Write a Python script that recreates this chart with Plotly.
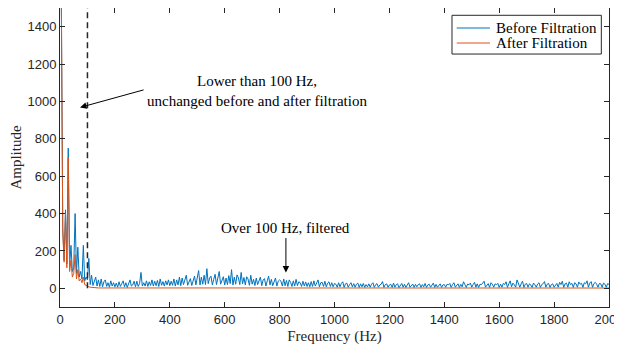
import plotly.graph_objects as go

# ---- data ----
freq_low = [0, 5, 10, 15, 20, 25, 30, 35, 40, 45, 50, 55, 60, 65, 70, 75, 80, 85, 90, 95, 100]
blue_low = [1800, 1500, 320, 150, 420, 130, 750, 120, 230, 90, 110, 400, 80, 220, 60, 90, 50, 230, 40, 60, 45]
orange_low = [1800, 1550, 300, 140, 400, 110, 700, 90, 150, 60, 80, 180, 50, 100, 40, 50, 30, 60, 20, 15, 10]

blue_high = [
    160, 20, 70, 15, 45, 60, 12, 45, 10, 50, 8, 35, 45, 10, 30, 6, 40, 12, 30, 8,
    28, 6, 35, 10, 25, 40, 8, 30, 5, 32, 45, 12, 18, 38, 8, 38, 10, 26, 85, 12,
    30, 12, 40, 10, 35, 15, 45, 12, 38, 14, 42, 10, 50, 16, 36, 12, 40, 18, 45, 14,
    38, 16, 50, 12, 45, 18, 60, 14, 55, 20, 48, 70, 16, 35, 52, 15, 45, 65, 18, 50,
    95, 18, 60, 22, 70, 20, 105, 25, 55, 65, 18, 48, 75, 20, 55, 90, 22, 45, 62, 18,
    55, 20, 68, 25, 100, 18, 60, 22, 72, 55, 20, 85, 24, 58, 18, 62, 50, 16, 70, 22,
    48, 15, 55, 20, 42, 60, 14, 45, 52, 12, 40, 65, 18, 48, 14, 42, 55, 12, 38, 45,
    38, 12, 50, 14, 42, 10, 45, 32, 10, 40, 12, 48, 14, 35, 30, 10, 38, 12, 34, 10,
    30, 8, 36, 10, 40, 12, 28, 45, 8, 30, 32, 10, 38, 8, 28, 35, 10, 30, 8, 26,
    22, 6, 30, 8, 26, 35, 5, 24, 28, 6, 20, 30, 8, 25, 6, 22, 28, 5, 24, 8,
    26, 5, 20, 8, 24, 6, 22, 30, 5, 20, 25, 6, 18, 22, 36, 5, 20, 24, 6, 18,
    22, 5, 28, 6, 20, 24, 4, 19, 26, 6, 22, 5, 20, 30, 6, 18, 23, 5, 21, 8,
    20, 24, 5, 20, 8, 26, 5, 18, 22, 6, 18, 28, 5, 21, 6, 19, 24, 5, 18, 20,
    6, 22, 18, 26, 5, 20, 30, 6, 19, 24, 5, 21, 8, 35, 20, 5, 23, 19, 28, 6,
    20, 32, 6, 24, 5, 22, 19, 26, 38, 6, 17, 25, 5, 30, 22, 6, 24, 19, 27, 5,
    22, 6, 26, 20, 35, 5, 24, 40, 8, 28, 19, 6, 45, 30, 6, 24, 38, 5, 22, 26,
    6, 24, 18, 5, 28, 19, 6, 23, 30, 5, 20, 25, 36, 6, 22, 26, 5, 20, 24, 6,
    18, 26, 6, 32, 20, 38, 5, 24, 28, 6, 35, 20, 26, 5, 30, 24, 6, 34, 22, 27,
    5, 30, 24, 40, 6, 28, 36, 5, 25, 32, 22, 6, 26, 24, 5, 28, 22, 6, 25, 21,
]
freq_high = [105 + 5 * i for i in range(len(blue_high))]

orange_tail_freq = [105, 110, 115, 120, 125, 130, 140, 150, 175, 200, 250, 300, 400, 500, 600, 700,
                    800, 900, 1000, 1200, 1400, 1600, 1800, 2000]
orange_tail = [8, 6, 5, 4, 3, 3, 2, 2, 2, 2, 1.5, 1.5, 1.5, 1.5, 1.5, 1.5,
               1.5, 1.5, 1.5, 1.5, 1.5, 1.5, 1.5, 1.5]

series_names = ["Before Filtration", "After Filtration"]
series_colors = ["#0072BD", "#D95319"]

blue_f = freq_low + freq_high
blue_y = blue_low + blue_high
orange_f = freq_low + orange_tail_freq
orange_y = orange_low + orange_tail

x_ticks = [0, 200, 400, 600, 800, 1000, 1200, 1400, 1600, 1800, 2000]
y_ticks = [0, 200, 400, 600, 800, 1000, 1200, 1400]
cutoff = 100

AX = "#262626"
SERIF = "Liberation Serif, Times New Roman, serif"
SANS = "Liberation Sans, Arial, sans-serif"

fig = go.Figure()
fig.add_trace(go.Scatter(x=blue_f, y=blue_y, mode="lines", name=series_names[0],
                         line=dict(color=series_colors[0], width=1), showlegend=False))
fig.add_trace(go.Scatter(x=orange_f, y=orange_y, mode="lines", name=series_names[1],
                         line=dict(color=series_colors[1], width=1), showlegend=False))

fig.add_shape(type="line", x0=cutoff, x1=cutoff, y0=0, y1=1500, xref="x", yref="y",
              line=dict(color=AX, width=1.5, dash="6px,4px"), layer="above")

fig.add_annotation(x=718, y=1058, xref="x", yref="y",
                   text="Lower than 100 Hz,<br>unchanged before and after filtration",
                   showarrow=False, font=dict(family=SERIF, size=15, color="#000000"))
fig.add_annotation(x=73, y=968, ax=310, ay=1064, xref="x", yref="y", axref="x", ayref="y",
                   text="", showarrow=True, arrowhead=2, arrowsize=1.3, arrowwidth=1,
                   arrowcolor="#000000")
fig.add_annotation(x=820, y=324, xref="x", yref="y", text="Over 100 Hz, filtered",
                   showarrow=False, font=dict(family=SERIF, size=15, color="#000000"))
fig.add_annotation(x=823, y=85, ax=823, ay=277, xref="x", yref="y", axref="x", ayref="y",
                   text="", showarrow=True, arrowhead=2, arrowsize=1.3, arrowwidth=1,
                   arrowcolor="#000000")

# legend box (MATLAB-style compact legend)
fig.add_shape(type="rect", xref="paper", yref="paper", x0=0.714, x1=0.986, y0=0.846, y1=0.9756,
              line=dict(color=AX, width=1), fillcolor="white", layer="above")
for i, (nm, col) in enumerate(zip(series_names, series_colors)):
    yy = 0.9331 - i * 0.0502
    fig.add_shape(type="line", xref="paper", yref="paper", x0=0.7226, x1=0.7832, y0=yy, y1=yy,
                  line=dict(color=col, width=1), layer="above")
    fig.add_annotation(x=0.7905, y=yy, xref="paper", yref="paper", text=nm, showarrow=False,
                       xanchor="left", yanchor="middle",
                       font=dict(family=SERIF, size=15, color="#000000"))

fig.update_layout(
    width=614, height=343,
    margin=dict(l=52, r=13, t=0, b=44),
    paper_bgcolor="white", plot_bgcolor="white",
    showlegend=False,
)
fig.update_xaxes(range=[0, 2000], tickvals=x_ticks, ticks="inside", ticklen=5,
                 tickcolor=AX, linecolor=AX, linewidth=1, mirror="ticks", showline=True,
                 showgrid=False, zeroline=False, automargin=False,
                 ticklabeloverflow="allow",
                 tickfont=dict(family=SANS, size=13, color=AX),
                 title=dict(text="Frequency (Hz)", font=dict(family=SERIF, size=15, color=AX),
                            standoff=4))
fig.update_yaxes(range=[-100, 1500], tickvals=y_ticks, ticks="inside", ticklen=5,
                 tickcolor=AX, linecolor=AX, linewidth=1, mirror="ticks", showline=True,
                 showgrid=False, zeroline=False, automargin=False,
                 tickfont=dict(family=SANS, size=13, color=AX),
                 title=dict(text="Amplitude", font=dict(family=SERIF, size=15, color=AX),
                            standoff=8))

fig.write_html("out.html")
